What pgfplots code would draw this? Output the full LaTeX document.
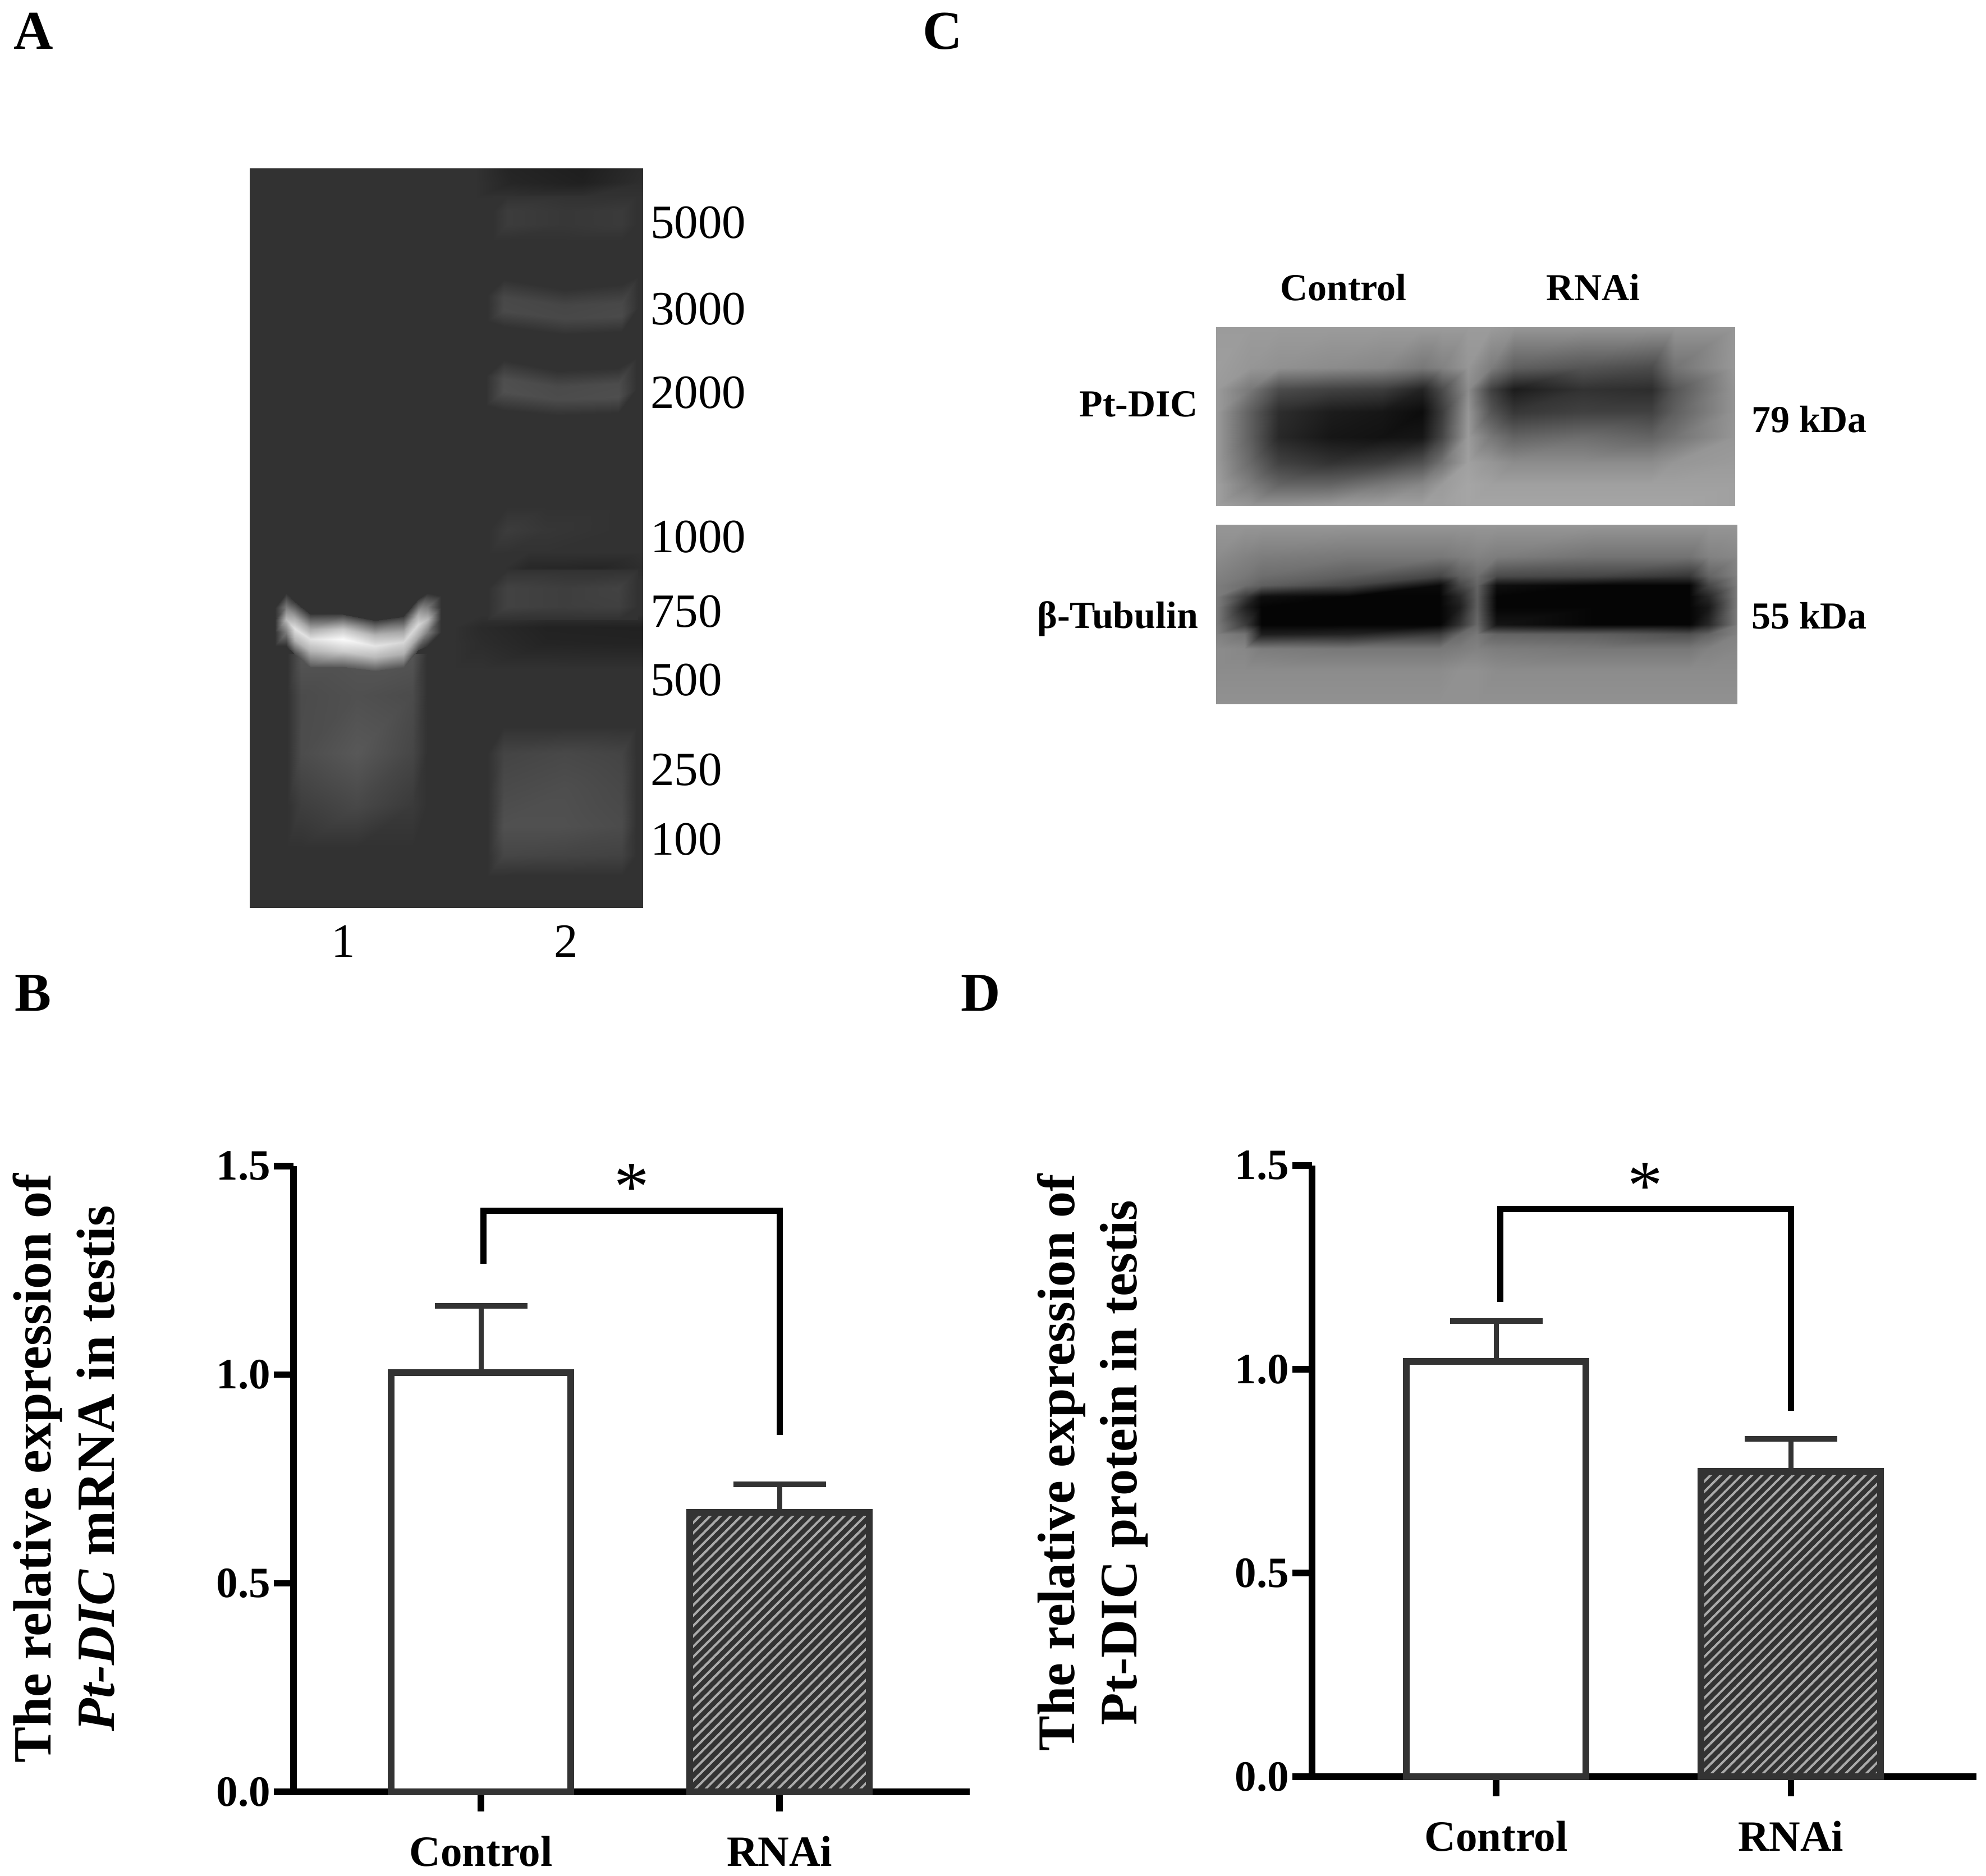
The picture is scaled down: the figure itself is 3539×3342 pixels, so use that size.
\documentclass[border=0pt]{standalone}
\usepackage{fontspec}
\setmainfont{Liberation Serif}
\usepackage{pgfplots}
\pgfplotsset{compat=1.18}
\usetikzlibrary{patterns.meta}

\definecolor{bardark}{HTML}{333333}
\definecolor{hatchline}{HTML}{ABABAB}

\newcommand{\fs}[1]{\fontsize{#1}{#1}\selectfont}

% photo panels: smooth gray patches, values are gray levels 0-255
\pgfplotsset{
  photo/.style={
    hide axis, scale only axis, enlargelimits=false, view={0}{90}, y dir=reverse,
    colormap={graylevel}{gray(0cm)=(0); gray(1cm)=(1)},
    point meta min=0, point meta max=255, anchor=north west, clip=true,
  },
  patch/.style={surf, shader=interp, mesh/cols=#1},
  barchart/.style={
    scale only axis, axis lines=left, axis line style={-, line width=2.3pt},
    ymin=0, ymax=1.5, ytick={0,0.5,1,1.5}, xtick={0,1},
    xticklabels={Control,RNAi}, tick align=outside, major tick length=7pt,
    tick style={black, line width=2.3pt},
    tick label style={font=\bfseries\fs{15.4}},
    yticklabel style={xshift=2.3pt, /pgf/number format/fixed, /pgf/number format/fixed zerofill,
      /pgf/number format/precision=1, /pgf/number format/assume math mode=true},
    xticklabel style={yshift=-5.2pt},
    clip=false,
  },
  ctrlbar/.style={ybar, bar shift=0pt, bar width=64pt, draw=bardark, line width=2.4pt, fill=white, mark=none,
    error bars/.cd, y dir=plus, y explicit,
    error bar style={line width=1.8pt, color=bardark},
    error mark options={rotate=90, mark size=16.5pt, line width=2pt, color=bardark}},
  rnaibar/.style={ybar, bar shift=0pt, bar width=64pt, draw=bardark, line width=2.4pt, mark=none,
    pattern={Lines[angle=45,distance=2.6pt,line width=0.8pt]}, pattern color=hatchline,
    preaction={fill=bardark},
    error bars/.cd, y dir=plus, y explicit,
    error bar style={line width=1.8pt, color=bardark},
    error mark options={rotate=90, mark size=16.5pt, line width=2pt, color=bardark}},
  bracket/.style={black, line width=2.2pt, mark=none, line join=miter},
}

\begin{document}
\begin{tikzpicture}[x=0.2pt, y=-0.2pt]
\useasboundingbox (0,0) rectangle (3539,3342);

% A: gel
\begin{axis}[photo, at={(89pt,-60pt)}, width=140pt, height=263.4pt,
    xmin=70, xmax=1168, ymin=33, ymax=1445]
  \addplot3[patch=2] coordinates {(70,33,50)(1168,33,50)
    (70,1445,50)(1168,1445,50)};
  % dark top of lane 2
  \addplot3[patch=4] coordinates {
    (700,33,50)(800,33,36)(1000,33,30)(1168,33,44)
    (700,60,50)(800,60,38)(1000,60,32)(1168,60,46)
    (700,90,50)(800,90,50)(1000,90,50)(1168,90,50)};
  % 5000
  \addplot3[patch=5] coordinates {
    (750,85,50)(790,85,50)(950,85,50)(1110,85,50)(1150,85,50)
    (750,115,50)(790,115,60)(950,115,55)(1110,115,58)(1150,115,50)
    (750,140,50)(790,140,60)(950,140,55)(1110,140,58)(1150,140,50)
    (750,170,50)(790,170,50)(950,170,50)(1110,170,50)(1150,170,50)};
  % 3000
  \addplot3[patch=5] coordinates {
    (735,240,50)(780,245,50)(950,265,50)(1110,255,50)(1155,240,50)
    (735,275,50)(780,280,72)(950,295,70)(1110,290,72)(1155,275,50)
    (735,300,50)(780,305,74)(950,320,72)(1110,315,74)(1155,300,50)
    (735,325,50)(780,335,50)(950,350,50)(1110,345,50)(1155,325,50)};
  % 2000
  \addplot3[patch=5] coordinates {
    (730,395,50)(780,400,50)(930,420,50)(1100,415,50)(1150,395,50)
    (730,430,50)(780,435,78)(930,450,74)(1100,445,76)(1150,430,50)
    (730,455,50)(780,460,80)(930,475,76)(1100,470,78)(1150,455,50)
    (730,485,50)(780,495,50)(930,505,50)(1100,500,50)(1150,485,50)};
  % 1000
  \addplot3[patch=4] coordinates {
    (740,680,50)(790,680,50)(900,680,50)(1100,680,50)
    (740,725,50)(790,725,60)(900,725,54)(1100,725,50)
    (740,770,50)(790,770,50)(900,770,50)(1100,770,50)};
  % dark stripes around 750
  \addplot3[patch=4] coordinates {
    (780,765,50)(850,765,50)(1050,765,50)(1168,765,50)
    (780,795,50)(850,795,40)(1050,795,38)(1168,795,46)
    (780,820,50)(850,820,50)(1050,820,50)(1168,820,50)};
  \addplot3[patch=4] coordinates {
    (640,885,50)(720,885,50)(900,885,50)(1168,885,50)
    (640,910,50)(720,910,42)(900,910,34)(1168,910,33)
    (640,940,50)(720,940,44)(900,940,36)(1168,940,35)
    (640,990,50)(720,990,50)(900,990,50)(1168,990,50)};
  % 750
  \addplot3[patch=5] coordinates {
    (735,800,50)(790,800,50)(950,800,50)(1100,800,50)(1155,800,50)
    (735,835,50)(790,835,66)(950,835,62)(1100,835,66)(1155,835,50)
    (735,870,50)(790,870,66)(950,870,62)(1100,870,64)(1155,870,50)
    (735,895,50)(790,895,50)(950,895,50)(1100,895,50)(1155,895,50)};
  % smear lane 2
  \addplot3[patch=5] coordinates {
    (735,1100,50)(780,1100,50)(950,1100,50)(1110,1100,50)(1150,1100,50)
    (735,1150,50)(780,1150,68)(950,1150,72)(1110,1150,68)(1150,1150,50)
    (735,1220,50)(780,1220,74)(950,1220,78)(1110,1220,72)(1150,1220,50)
    (735,1290,50)(780,1290,80)(950,1290,80)(1110,1290,75)(1150,1290,50)
    (735,1345,50)(780,1345,70)(950,1345,68)(1110,1345,66)(1150,1345,50)
    (735,1385,50)(780,1385,50)(950,1385,50)(1110,1385,50)(1150,1385,50)};
  % smear lane 1
  \addplot3[patch=5] coordinates {
    (175,960,50)(215,960,85)(370,960,85)(525,960,85)(565,960,50)
    (175,1040,50)(215,1040,75)(370,1040,80)(525,1040,75)(565,1040,50)
    (175,1150,50)(215,1150,76)(370,1150,88)(525,1150,70)(565,1150,50)
    (175,1250,50)(215,1250,62)(370,1250,72)(525,1250,58)(565,1250,50)
    (175,1330,50)(215,1330,50)(370,1330,50)(525,1330,50)(565,1330,50)};
  % bright band lane 1
  \addplot3[patch=10] coordinates {
    (140,850,50)(172,845,50)(195,862,60)(240,885,60)(330,885,65)(420,897,60)(500,890,60)(540,857,60)(567,845,50)(605,850,50)
    (140,872,50)(172,870,120)(195,892,170)(240,913,170)(330,913,200)(420,925,180)(500,918,165)(540,885,170)(567,870,120)(605,872,50)
    (140,895,50)(172,895,185)(195,912,225)(240,933,225)(330,933,250)(420,945,228)(500,938,215)(540,905,215)(567,895,185)(605,895,50)
    (140,920,50)(172,920,125)(195,934,180)(240,955,180)(330,955,205)(420,967,185)(500,960,175)(540,927,170)(567,920,125)(605,920,50)
    (140,945,50)(172,945,50)(195,960,75)(240,985,90)(330,985,92)(420,993,90)(500,986,85)(540,953,70)(567,945,50)(605,945,50)};
\end{axis}

% C: blots
\begin{axis}[photo, at={(433.3pt,-116.6pt)}, width=186pt, height=134.2pt,
    xmin=360, xmax=1270, ymin=272, ymax=1465]
  \addplot3[patch=14] coordinates {
    (360,272,155)(420,272,155)(470,272,155)(560,272,155)(650,272,155)(720,272,155)(755,272,155)(800,272,155)(840,272,155)(880,272,150)(1000,272,150)(1120,272,150)(1160,272,150)(1265,272,150)
    (360,400,158)(420,400,150)(470,400,145)(560,400,140)(650,400,135)(720,400,120)(755,400,130)(800,400,150)(840,400,125)(880,400,95)(1000,400,85)(1120,400,75)(1160,400,115)(1265,400,152)
    (360,470,155)(420,470,120)(470,470,75)(560,470,65)(650,470,60)(720,470,35)(755,470,75)(800,470,140)(840,470,65)(880,470,28)(1000,470,50)(1120,470,45)(1160,470,85)(1265,470,148)
    (360,540,155)(420,540,95)(470,540,45)(560,540,28)(650,540,22)(720,540,12)(755,540,60)(800,540,150)(840,540,85)(880,540,55)(1000,540,65)(1120,540,65)(1160,540,95)(1265,540,148)
    (360,620,155)(420,620,95)(470,620,40)(560,620,22)(650,620,18)(720,620,22)(755,620,70)(800,620,155)(840,620,120)(880,620,100)(1000,620,110)(1120,620,100)(1160,620,115)(1265,620,150)
    (360,700,155)(420,700,105)(470,700,65)(560,700,50)(650,700,60)(720,700,80)(755,700,115)(800,700,160)(840,700,150)(880,700,140)(1000,700,140)(1120,700,140)(1160,700,150)(1265,700,155)
    (360,770,160)(420,770,125)(470,770,100)(560,770,100)(650,770,120)(720,770,135)(755,770,155)(800,770,165)(840,770,160)(880,770,160)(1000,770,160)(1120,770,160)(1160,770,160)(1265,770,160)
    (360,838,160)(420,838,150)(470,838,150)(560,838,155)(650,838,160)(720,838,160)(755,838,160)(800,838,165)(840,838,165)(880,838,165)(1000,838,165)(1120,838,165)(1160,838,165)(1265,838,160)};
  \addplot3[patch=12] coordinates {
    (360,898,150)(410,898,150)(440,898,150)(590,898,150)(750,898,150)(785,898,150)(815,898,150)(850,898,150)(1020,898,150)(1185,898,150)(1220,898,150)(1270,898,150)
    (360,1000,140)(410,1000,130)(440,1000,125)(590,1000,120)(750,1000,120)(785,1000,125)(815,1000,130)(850,1000,125)(1020,1000,115)(1185,1000,115)(1220,1000,130)(1270,1000,135)
    (360,1060,130)(410,1060,120)(440,1060,110)(590,1060,95)(750,1060,70)(785,1060,95)(815,1060,110)(850,1060,75)(1020,1060,70)(1185,1060,55)(1220,1060,100)(1270,1060,130)
    (360,1090,125)(410,1090,110)(440,1090,95)(590,1090,70)(750,1090,10)(785,1090,70)(815,1090,100)(850,1090,15)(1020,1090,5)(1185,1090,5)(1220,1090,70)(1270,1090,125)
    (360,1125,125)(410,1125,60)(440,1125,15)(590,1125,5)(750,1125,5)(785,1125,40)(815,1125,95)(850,1125,5)(1020,1125,5)(1185,1125,5)(1220,1125,40)(1270,1125,125)
    (360,1160,125)(410,1160,35)(440,1160,5)(590,1160,5)(750,1160,5)(785,1160,30)(815,1160,95)(850,1160,5)(1020,1160,5)(1185,1160,5)(1220,1160,25)(1270,1160,125)
    (360,1215,125)(410,1215,60)(440,1215,5)(590,1215,5)(750,1215,5)(785,1215,50)(815,1215,105)(850,1215,20)(1020,1215,5)(1185,1215,5)(1220,1215,40)(1270,1215,125)
    (360,1245,130)(410,1245,115)(440,1245,30)(590,1245,35)(750,1245,60)(785,1245,105)(815,1245,120)(850,1245,100)(1020,1245,95)(1185,1245,80)(1220,1245,100)(1270,1245,130)
    (360,1290,140)(410,1290,135)(440,1290,125)(590,1290,120)(750,1290,120)(785,1290,125)(815,1290,130)(850,1290,125)(1020,1290,120)(1185,1290,120)(1220,1290,130)(1270,1290,135)
    (360,1360,140)(410,1360,140)(440,1360,140)(590,1360,140)(750,1360,140)(785,1360,145)(815,1360,145)(850,1360,140)(1020,1360,140)(1185,1360,140)(1220,1360,140)(1270,1360,140)
    (360,1465,145)(410,1465,145)(440,1465,145)(590,1465,145)(750,1465,145)(785,1465,145)(815,1465,145)(850,1465,145)(1020,1465,145)(1185,1465,145)(1220,1465,145)(1270,1465,145)};
\end{axis}

% B: mRNA
\begin{axis}[barchart, at={(104.6pt,-638.6pt)}, anchor=south west, width=241pt, height=223pt,
    xmin=-0.628, xmax=1.637,
    ylabel={The relative expression of\\\textit{Pt-DIC} mRNA in testis},
    ylabel style={align=center, font=\bfseries\fontsize{19.2}{22.6}\selectfont, at={(axis description cs:-0.34,0.517)}, anchor=center}]
  \addplot[ctrlbar] coordinates {(0,1.005) +- (0,0.16)};
  \addplot[rnaibar] coordinates {(1,0.67) +- (0,0.067)};
  \addplot[bracket] coordinates {(0.008,1.266) (0.008,1.393) (1,1.393) (1,0.856)};
  \node[font=\fs{25}] at (axis cs:0.504,1.45) {*};
\end{axis}

% D: protein
\begin{axis}[barchart, at={(467.6pt,-633.2pt)}, anchor=south west, width=236.8pt, height=217.8pt,
    xmin=-0.625, xmax=1.63,
    ylabel={The relative expression of\\Pt-DIC protein in testis},
    ylabel style={align=center, font=\bfseries\fontsize{18.8}{22.2}\selectfont, at={(axis description cs:-0.33,0.514)}, anchor=center}]
  \addplot[ctrlbar] coordinates {(0,1.02) +- (0,0.098)};
  \addplot[rnaibar] coordinates {(1,0.75) +- (0,0.079)};
  \addplot[bracket] coordinates {(0.013,1.166) (0.013,1.394) (1,1.394) (1,0.898)};
  \node[font=\fs{25}] at (axis cs:0.505,1.45) {*};
\end{axis}

% panel letters
\node[anchor=base west, inner sep=0pt, font=\bfseries\fs{19.5}] at (23,88) {A};
\node[anchor=base west, inner sep=0pt, font=\bfseries\fs{19.5}] at (25,1801) {B};
\node[anchor=base west, inner sep=0pt, font=\bfseries\fs{19.5}] at (1643,88) {C};
\node[anchor=base west, inner sep=0pt, font=\bfseries\fs{19.5}] at (1711,1801) {D};

% gel marker sizes
\foreach \y/\t in {397/5000,551/3000,700/2000,957/1000,1090/750,1212/500,1372/250,1496/100}
  \node[anchor=west, inner sep=0pt, font=\fs{17}] at (1158,\y) {\t};
\node[font=\fs{17}] at (612,1677) {1};
\node[font=\fs{17}] at (1009,1677) {2};

% blot labels
\node[font=\bfseries\fs{13.6}] at (2394,512) {Control};
\node[font=\bfseries\fs{13.6}] at (2839,512) {RNAi};
\node[anchor=east, inner sep=0pt, font=\bfseries\fs{13.6}] at (2136,720) {Pt-DIC};
\node[anchor=east, inner sep=0pt, font=\bfseries\fs{13.6}] at (2136,1103) {β-Tubulin};
\node[anchor=west, inner sep=0pt, font=\bfseries\fs{13.6}] at (3120,747) {79 kDa};
\node[anchor=west, inner sep=0pt, font=\bfseries\fs{13.6}] at (3120,1097) {55 kDa};
\end{tikzpicture}
\end{document}
